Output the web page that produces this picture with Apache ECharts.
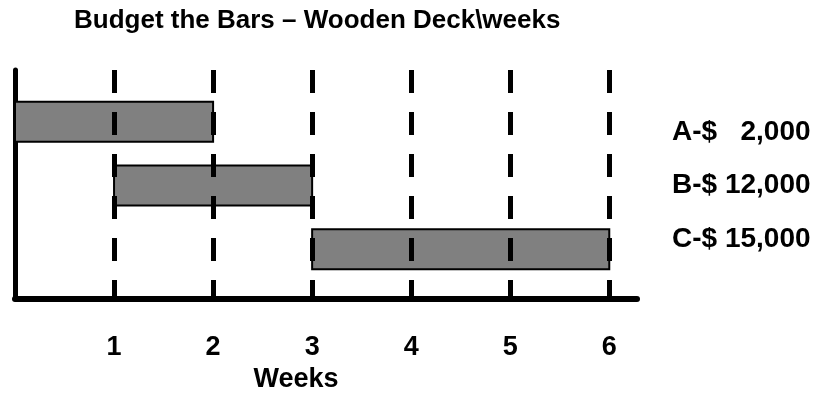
<!DOCTYPE html>
<html>
<head>
<meta charset="utf-8">
<script src="https://cdn.jsdelivr.net/npm/echarts@6/dist/echarts.min.js"></script>
<style>
  html, body { margin: 0; padding: 0; background: #fff; }
  #main { width: 820px; height: 398px; }
</style>
</head>
<body>
<div id="main"></div>
<script>
// task rows: start week, end week
var rowNames = ['A', 'B', 'C'];
var startWeeks = [0, 1, 3];
var endWeeks = [2, 3, 6];
var costLabels = ['A-$   2,000', 'B-$ 12,000', 'C-$ 15,000'];
var weekTicks = [1, 2, 3, 4, 5, 6];

var FONT = 'Liberation Sans, Arial, sans-serif';

var barData = rowNames.map(function (name, i) {
  return [startWeeks[i], endWeeks[i], i];
});

function renderBar(params, api) {
  var p0 = api.coord([api.value(0), api.value(2)]);
  var p1 = api.coord([api.value(1), api.value(2)]);
  var h = api.size([0, 1])[1] * 0.626;
  return {
    type: 'rect',
    shape: { x: p0[0], y: p0[1] - h / 2, width: p1[0] - p0[0], height: h },
    style: { fill: '#808080', stroke: '#000', lineWidth: 2 }
  };
}

var chart = echarts.init(document.getElementById('main'));

var option = {
  animation: false,
  title: {
    text: 'Budget the Bars \u2013 Wooden Deck\\weeks',
    left: 74,
    top: 8,
    padding: 0,
    textStyle: { fontFamily: FONT, fontWeight: 'bold', fontSize: 26, color: '#000' }
  },
  grid: { left: 15, right: 183, top: 70, bottom: 93 },
  xAxis: {
    type: 'value',
    min: 0,
    max: 6.28,
    interval: 1,
    name: 'Weeks',
    nameLocation: 'middle',
    nameGap: 66,
    nameTextStyle: { fontFamily: FONT, fontWeight: 'bold', fontSize: 27, color: '#000', padding: [0, 60, 0, 0] },
    axisLine: { show: true, onZero: false, lineStyle: { color: '#000', width: 6 } },
    axisTick: { show: false },
    splitLine: { show: false },
    axisLabel: {
      margin: 35,
      fontFamily: FONT, fontWeight: 'bold', fontSize: 27, color: '#000',
      formatter: function (v) { return weekTicks.indexOf(v) >= 0 ? String(v) : ''; }
    }
  },
  yAxis: [
    {
      type: 'value',
      inverse: true,
      min: -0.809,
      max: 2.779,
      position: 'left',
      axisLine: { show: true, onZero: false, lineStyle: { color: '#000', width: 5 } },
      axisTick: { show: false },
      axisLabel: { show: false },
      splitLine: { show: false }
    },
    {
      type: 'value',
      inverse: true,
      min: -1.149,
      max: 3.104,
      position: 'right',
      axisLine: { show: false },
      axisTick: { show: false },
      splitLine: { show: false },
      axisLabel: {
        show: true,
        customValues: [0, 1, 2],
        margin: 35,
        align: 'left',
        fontFamily: FONT, fontWeight: 'bold', fontSize: 28, color: '#000',
        formatter: function (v) { return costLabels[Math.round(v)] || ''; }
      }
    }
  ],
  series: [
    {
      type: 'custom',
      renderItem: renderBar,
      encode: { x: [0, 1], y: 2 },
      data: barData,
      markLine: {
        silent: true,
        symbol: ['none', 'none'],
        label: { show: false },
        lineStyle: { color: '#000', width: 5, type: [23, 19] },
        data: weekTicks.map(function (w) { return { xAxis: w }; })
      }
    }
  ]
};

chart.setOption(option);
</script>
</body>
</html>
